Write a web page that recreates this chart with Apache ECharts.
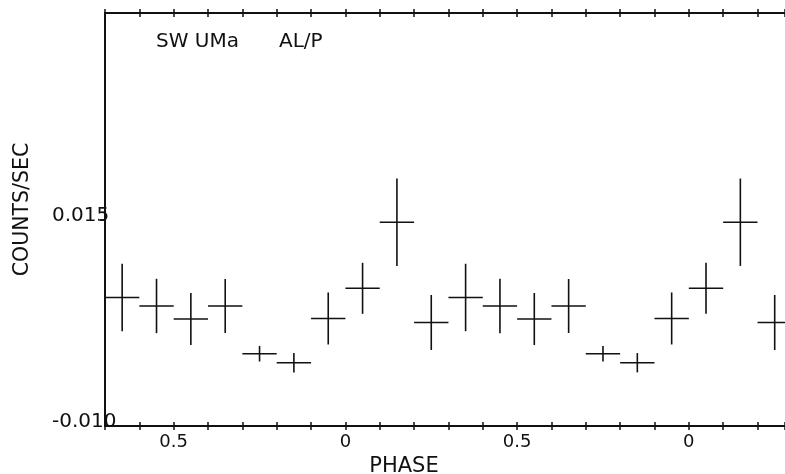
<!DOCTYPE html>
<html>
<head>
<meta charset="utf-8">
<title>SW UMa AL/P</title>
<script src="https://cdn.jsdelivr.net/npm/echarts@6/dist/echarts.min.js"></script>
<style>
  html, body { margin: 0; padding: 0; background: #fff; }
  #chart { width: 785px; height: 474px; }
</style>
</head>
<body>
<div id="chart"></div>
<script>
// phase-folded light curve, 10 bins per cycle
const phaseBins = [0.05, 0.15, 0.25, 0.35, 0.45, 0.55, 0.65, 0.75, 0.85, 0.95];
const counts = [0.00667, 0.01467, 0.00253, 0.00556, 0.00453, 0.00295, 0.00453, -0.00125, -0.00234, 0.00302];
const countErrors = [0.00309, 0.00529, 0.00333, 0.00408, 0.00329, 0.00315, 0.00327, 0.00094, 0.00117, 0.00315];
const binHalfWidth = 0.05;
const cycleShifts = [-1, 0, 1];

const phaseTicks = [-0.5, 0, 0.5, 1.0];
const phaseTickLabels = ["0.5", "0", "0.5", "0"];
const countTicks = [-0.01, 0.015];
const countTickLabels = ["-0.010", "0.015"];

const X_MIN = -0.7, X_MAX = 1.28;
const Y_MIN = -0.01, Y_MAX = 0.04;

// the same bins repeated over the plotted phase range
const points = [];
cycleShifts.forEach((shift) => {
  phaseBins.forEach((p, i) => {
    const x = +(p + shift).toFixed(2);
    if (x > X_MIN && x < X_MAX) points.push([x, counts[i], binHalfWidth, countErrors[i]]);
  });
});

const ink = "#111";
const textFont = "DejaVu Sans";

const chart = echarts.init(document.getElementById("chart"), null, { renderer: "canvas" });

// an x axis that only draws ticks, so ticks can cross the frame line
function xTicks(position, inside, extra) {
  return Object.assign({
    type: "value",
    position: position,
    min: X_MIN,
    max: X_MAX,
    interval: 0.1,
    axisLine: { show: false, onZero: false },
    axisTick: { show: true, inside: inside, length: 4, lineStyle: { color: ink, width: 1.5 } },
    axisLabel: { show: false },
    splitLine: { show: false },
  }, extra || {});
}

const option = {
  animation: false,
  backgroundColor: "#fff",
  title: [
    { text: "SW UMa", left: 151, top: 27, textStyle: { fontFamily: textFont, fontSize: 20, fontWeight: "normal", color: ink } },
    { text: "AL/P", left: 274, top: 27, textStyle: { fontFamily: textFont, fontSize: 20, fontWeight: "normal", color: ink } },
  ],
  grid: { left: 105, right: 0, top: 13, bottom: 48, containLabel: false, outerBoundsMode: "none" },
  xAxis: [
    xTicks("bottom", true, {
      axisLine: { show: true, onZero: false, lineStyle: { color: ink, width: 2 } },
      axisLabel: {
        show: true,
        customValues: phaseTicks,
        formatter: (v) => phaseTickLabels[phaseTicks.findIndex((t) => Math.abs(t - v) < 1e-6)],
        fontFamily: textFont,
        fontSize: 18,
        color: ink,
        margin: 7,
      },
      name: "PHASE",
      nameLocation: "middle",
      nameGap: 30,
      // the original frame is cut on the right, so the name sits left of centre
      nameTextStyle: { fontFamily: textFont, fontSize: 21, color: ink, padding: [0, 82, 0, 0] },
    }),
    xTicks("bottom", false),
    xTicks("top", true, { axisLine: { show: true, onZero: false, lineStyle: { color: ink, width: 2 } } }),
    xTicks("top", false),
  ],
  yAxis: {
    type: "value",
    min: Y_MIN,
    max: Y_MAX,
    axisLine: { show: true, onZero: false, lineStyle: { color: ink, width: 2 } },
    axisTick: { show: true, customValues: [countTicks[1]], length: 5, lineStyle: { color: ink, width: 1.5 } },
    axisLabel: {
      customValues: countTicks,
      formatter: (v) => countTickLabels[countTicks.findIndex((t) => Math.abs(t - v) < 1e-9)],
      fontFamily: textFont,
      fontSize: 20,
      color: ink,
      align: "left",
      verticalAlign: "bottom",
      lineHeight: 8,
      margin: 53,
    },
    splitLine: { show: false },
    name: "COUNTS/SEC",
    nameLocation: "middle",
    nameGap: 72,
    nameRotate: 90,
    nameTextStyle: { fontFamily: textFont, fontSize: 20.5, color: ink, padding: [0, 0, 0, 20] },
  },
  series: [
    {
      type: "custom",
      xAxisIndex: 0,
      yAxisIndex: 0,
      clip: true,
      data: points,
      renderItem: (params, api) => {
        const x = api.value(0), y = api.value(1), dx = api.value(2), dy = api.value(3);
        const left = api.coord([x - dx, y]);
        const right = api.coord([x + dx, y]);
        const top = api.coord([x, y + dy]);
        const bottom = api.coord([x, y - dy]);
        const style = { stroke: ink, lineWidth: 1.6 };
        return {
          type: "group",
          children: [
            { type: "line", shape: { x1: left[0], y1: left[1], x2: right[0], y2: right[1] }, style: style },
            { type: "line", shape: { x1: top[0], y1: top[1], x2: bottom[0], y2: bottom[1] }, style: style },
          ],
        };
      },
    },
  ],
};

chart.setOption(option);
window.addEventListener("resize", () => chart.resize());
</script>
</body>
</html>
